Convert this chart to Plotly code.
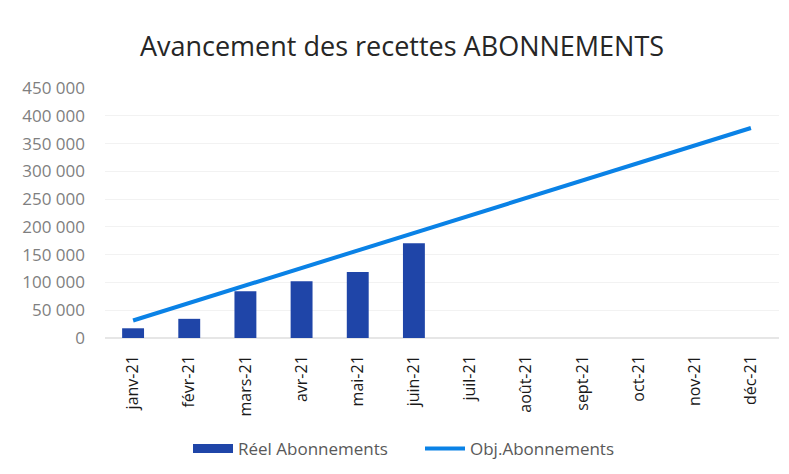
import plotly.graph_objects as go

months = ["janv-21", "févr-21", "mars-21", "avr-21", "mai-21", "juin-21",
          "juil-21", "août-21", "sept-21", "oct-21", "nov-21", "déc-21"]
reel = [17500, 34500, 84000, 102000, 119000, 170500, None, None, None, None, None, None]
objectif = [31500, 63000, 94500, 126000, 157500, 189000,
            220500, 252000, 283500, 315000, 346500, 378000]
ytick_vals = [0, 50000, 100000, 150000, 200000, 250000, 300000, 350000, 400000, 450000]
ytick_text = ["0", "50 000", "100 000", "150 000", "200 000", "250 000",
              "300 000", "350 000", "400 000", "450 000"]

BAR_COLOR = "#1f45a8"
LINE_COLOR = "#0a82e6"

# the page body adds an 8px offset; plot area in page pixels: x 105-779, y 88-338
OFF = 8
L, R, T, B = 105 - OFF, 789 - (779 - OFF), 88 - OFF, 474 - (338 - OFF)
PH = 474 - T - B
PW = 789 - L - R

fig = go.Figure()
fig.add_trace(go.Bar(x=months, y=reel, name="Réel Abonnements", showlegend=False,
                     marker=dict(color=BAR_COLOR, line=dict(width=0))))
# legend-only entry giving the wide rectangular swatch of the original
fig.add_trace(go.Scatter(x=[None], y=[None], name="Réel Abonnements", mode="lines",
                         line=dict(color=BAR_COLOR, width=9)))
fig.add_trace(go.Scatter(x=months, y=objectif, name="Obj.Abonnements", mode="lines",
                         line=dict(color=LINE_COLOR, width=4)))

fig.update_layout(
    width=789, height=474,
    margin=dict(l=L, r=R, t=T, b=B, autoexpand=False),
    paper_bgcolor="white", plot_bgcolor="white",
    font=dict(family="Open Sans, Liberation Sans, sans-serif", color="#595959"),
    title=dict(text="Avancement des recettes ABONNEMENTS", x=(402 - OFF) / 789,
               xanchor="center", y=1 - (47 - OFF) / 474, yanchor="middle",
               font=dict(size=27, color="#262626")),
    bargap=0.61,
    showlegend=True,
    legend=dict(orientation="h", x=(420 - 105) / PW, xanchor="center",
                y=-(449 - 338) / PH, yanchor="middle", itemwidth=40,
                entrywidth=177, entrywidthmode="pixels",
                font=dict(size=17, color="#595959"), bgcolor="rgba(0,0,0,0)"),
    xaxis=dict(tickangle=-90, tickfont=dict(size=16, color="#1a1a1a"),
               showline=False, showgrid=False, ticks="", ticklabelstandoff=13),
    yaxis=dict(range=[0, 450000], tickvals=ytick_vals, ticktext=ytick_text,
               tickfont=dict(size=17, color="#7f7f7f"), showgrid=True,
               gridcolor="#f2f2f2", zeroline=True, zerolinecolor="#e6e6e6",
               showline=False, ticks="", ticklabelstandoff=19),
)

fig.write_html("out.html")
